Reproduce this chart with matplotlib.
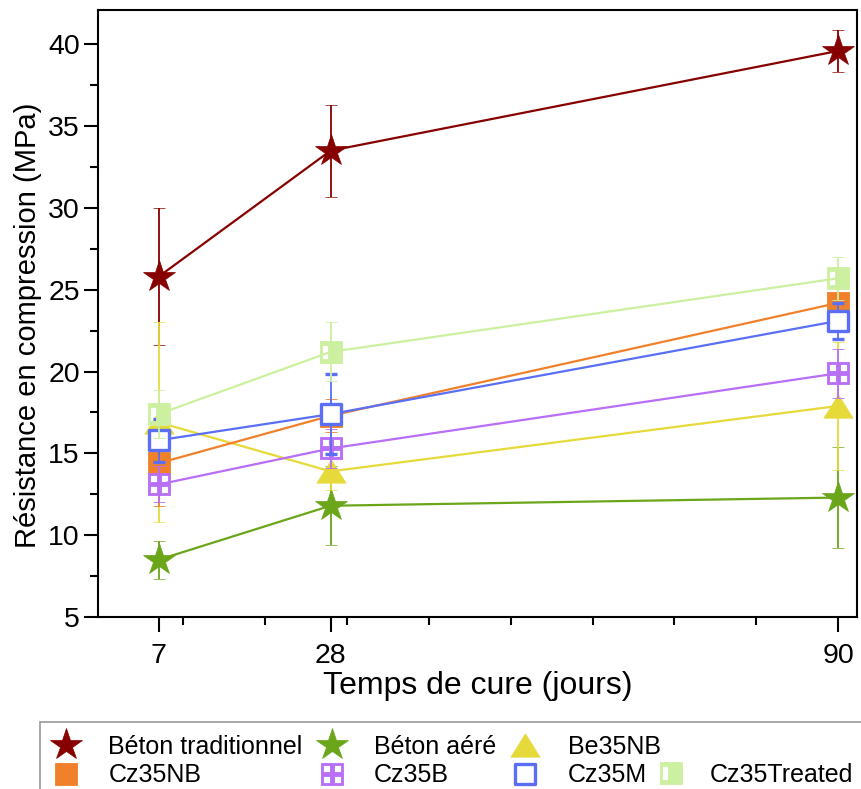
import matplotlib
matplotlib.use("Agg")
import matplotlib.pyplot as plt
import numpy as np
from matplotlib.path import Path
from matplotlib.lines import Line2D
from matplotlib.patches import Rectangle

plt.rcParams['font.family'] = ['Liberation Sans', 'DejaVu Sans']

# ---------------- data ----------------
days = [7, 28, 90]
beton_trad = [25.8, 33.5, 39.6]
beton_trad_err = [4.2, 2.8, 1.3]
beton_aere = [8.5, 11.8, 12.3]
beton_aere_err = [1.15, 2.4, 3.1]
be35nb = [16.9, 13.9, 17.9]
be35nb_err = [6.1, 1.15, 3.9]
cz35nb = [14.4, 17.3, 24.2]
cz35nb_err = [2.6, 1.0, 0.6]
cz35b = [13.1, 15.3, 19.9]
cz35b_err = [1.1, 1.2, 1.5]
cz35m = [15.8, 17.4, 23.1]
cz35m_err = [1.3, 2.45, 1.1]
cz35t = [17.4, 21.2, 25.7]
cz35t_err = [1.45, 1.8, 1.3]

labels = ["Béton traditionnel", "Béton aéré", "Be35NB", "Cz35NB",
          "Cz35B", "Cz35M", "Cz35Treated"]
xticks = [7, 28, 90]
yticks = [5, 10, 15, 20, 25, 30, 35, 40]

# ---------------- custom markers ----------------
def rect_ccw(x0, x1, y0, y1):
    return [(x0, y0), (x1, y0), (x1, y1), (x0, y1), (x0, y0)]

def rect_cw(x0, x1, y0, y1):
    return [(x0, y0), (x0, y1), (x1, y1), (x1, y0), (x0, y0)]

def compound(outer, holes):
    verts, codes = [], []
    for poly in [outer] + holes:
        verts += poly
        codes += [Path.MOVETO] + [Path.LINETO] * (len(poly) - 2) + [Path.CLOSEPOLY]
    return Path(verts, codes)

sq = rect_ccw(-1, 1, -1, 1)
grid_marker = compound(sq, [rect_cw(-0.75, -0.15, -0.75, -0.15),
                            rect_cw(0.15, 0.75, -0.75, -0.15),
                            rect_cw(-0.75, -0.15, 0.15, 0.75),
                            rect_cw(0.15, 0.75, 0.15, 0.75)])
half_marker = compound(sq, [rect_cw(-0.77, -0.29, -0.65, 0.65)])
square_marker = Path(sq, [Path.MOVETO, Path.LINETO, Path.LINETO, Path.LINETO, Path.CLOSEPOLY])
tri_marker = Path([(-1, -0.8), (1, -0.8), (0, 0.8), (-1, -0.8)],
                  [Path.MOVETO, Path.LINETO, Path.LINETO, Path.CLOSEPOLY])

styles = [
    dict(color='#870000', marker='*', ms=24, mfc='#870000', mew=0.5),
    dict(color='#6BA51A', marker='*', ms=24, mfc='#6BA51A', mew=0.5),
    dict(color='#E6DA3A', marker=tri_marker, ms=21, mfc='#E6DA3A', mew=0.5),
    dict(color='#F0812A', marker=square_marker, ms=16.5, mfc='#F0812A', mew=0.6),
    dict(color='#B86EF7', marker=grid_marker, ms=16.5, mfc='#B86EF7', mew=0.6),
    dict(color='#5A6FF5', marker=square_marker, ms=15, mfc='white', mew=2.4),
    dict(color='#CDF0A0', marker=half_marker, ms=16.5, mfc='#CDF0A0', mew=0.6),
]
series = [(beton_trad, beton_trad_err), (beton_aere, beton_aere_err),
          (be35nb, be35nb_err), (cz35nb, cz35nb_err), (cz35b, cz35b_err),
          (cz35m, cz35m_err), (cz35t, cz35t_err)]

# ---------------- figure ----------------
fig = plt.figure(figsize=(8.61, 7.89), dpi=100)
ax = fig.add_axes([98 / 861, 1 - 617 / 789, (857 - 98) / 861, (617 - 10) / 789])

handles = []
for i, ((vals, errs), st) in enumerate(zip(series, styles)):
    z = 2 + i * 0.1
    ax.errorbar(days, vals, yerr=errs, color=st['color'], lw=1.6,
                elinewidth=1.3, capsize=4.5, capthick=1.3,
                marker=st['marker'], ms=st['ms'], mfc=st['mfc'],
                mec=st['color'], mew=st['mew'], zorder=z)
    handles.append(Line2D([], [], linestyle='none', marker=st['marker'],
                          ms=st['ms'], mfc=st['mfc'], mec=st['color'],
                          mew=st['mew'], label=labels[i]))

ax.set_xlim(-0.4, 92.3)
ax.set_ylim(5, 42.1)
ax.set_xticks(xticks)
ax.set_xticks(np.arange(10, 90, 10), minor=True)
ax.set_yticks(yticks)
ax.set_yticks(np.arange(7.5, 42, 5), minor=True)
ax.tick_params(axis='both', which='major', labelsize=20.5, width=1.5, direction='out')
ax.tick_params(axis='x', which='major', length=11, pad=8)
ax.tick_params(axis='y', which='major', length=10, pad=3)
ax.tick_params(axis='both', which='minor', length=5.5, width=1.5, direction='out')
for sp in ax.spines.values():
    sp.set_linewidth(1.5)

ax.set_xlabel("Temps de cure (jours)", fontsize=23, labelpad=1)
ax.set_ylabel("Résistance en compression (MPa)", fontsize=21)
ax.yaxis.set_label_coords(-0.074, 0.48)

# legend: first three columns
leg_items = [handles[0], handles[3], handles[1], handles[4], handles[2], handles[5]]
leg1 = fig.legend(handles=leg_items, labels=[h.get_label() for h in leg_items],
                  ncol=3, loc='upper left',
                  bbox_to_anchor=(46 / 861, 1 - 735 / 789),
                  frameon=False, fontsize=18, handlelength=1.6,
                  handletextpad=0.9, columnspacing=0.35, labelspacing=0.18,
                  borderpad=0, borderaxespad=0)
# legend: last entry of second row
leg2 = fig.legend(handles=[handles[6]], labels=[labels[6]], loc='upper left',
                  bbox_to_anchor=(651 / 861, 1 - 762.5 / 789),
                  frameon=False, fontsize=18, handlelength=1.6,
                  handletextpad=0.75, borderpad=0, borderaxespad=0)
fig.add_artist(Rectangle((40 / 861, -0.05), 1.0, 1 - 722 / 789 + 0.05,
                         transform=fig.transFigure, fill=False,
                         edgecolor='#9a9a9a', linewidth=1.2))

fig.savefig("out.png", dpi=100)
